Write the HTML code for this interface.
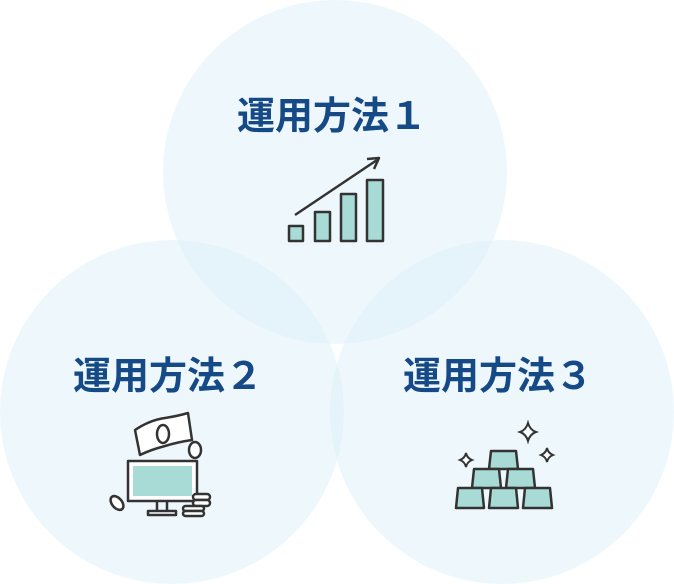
<!DOCTYPE html>
<html><head><meta charset="utf-8"><style>
html,body{margin:0;padding:0;background:#fff;}
svg{display:block}
text{font-family:"Liberation Sans","Noto Sans CJK JP",sans-serif;font-weight:bold;fill:#164a86;font-size:38px}
</style></head><body>
<svg width="674" height="584" viewBox="0 0 674 584">
<g fill="#d9eff8" fill-opacity="0.45">
<circle cx="335" cy="172" r="172"/>
<circle cx="172" cy="412" r="172"/>
<circle cx="502" cy="412" r="172"/>
</g>
<text x="332" y="129" text-anchor="middle">運用方法１</text>
<text x="168" y="389" text-anchor="middle">運用方法２</text>
<text x="498" y="389" text-anchor="middle">運用方法３</text>
<g stroke="#333" stroke-width="2.5" fill="#a8dbd6" stroke-linejoin="round">
<rect x="289" y="226" width="14" height="15"/>
<rect x="315" y="212" width="15" height="29"/>
<rect x="341" y="194" width="15" height="47"/>
<rect x="367" y="180" width="16" height="61"/>
<path d="M295 215 L377 160" fill="none"/>
<path d="M367 159 L379 158 L374 169" fill="none"/>
</g>
<g stroke="#333" stroke-width="2.5" stroke-linejoin="round">
<path d="M135 430 Q150 420 165 418 Q178 416 188 413 L192 440 Q178 442 165 446 Q150 450 140 455 Z" fill="#fff"/>
<ellipse cx="163" cy="434" rx="6" ry="9" fill="none"/>
<ellipse cx="195" cy="450" rx="6" ry="8" fill="#fff"/>
<rect x="128" y="461" width="69" height="40" fill="#fff"/>
<rect x="133" y="466" width="59" height="30" fill="#a8dbd6" stroke="none"/>
<path d="M157 501 V511 M167 501 V511" fill="none"/>
<rect x="148" y="511" width="28" height="4" fill="#fff"/>
<ellipse cx="117" cy="503" rx="5" ry="8" fill="#fff" transform="rotate(-40 117 503)"/>
<rect x="193" y="494" width="17" height="6" rx="3" fill="#fff"/>
<rect x="193" y="500" width="17" height="6" rx="3" fill="#fff"/>
<rect x="183" y="506" width="21" height="5" rx="2.5" fill="#fff"/>
<rect x="183" y="511" width="21" height="5" rx="2.5" fill="#fff"/>
</g>
<g stroke="#333" stroke-width="2.5" fill="#a8dbd6" stroke-linejoin="round">
<path d="M491 451 H516 L518 469 H489 Z"/>
<path d="M474 469 H499 L501 488 H472 Z"/>
<path d="M508 469 H533 L535 488 H506 Z"/>
<path d="M458 488 H482 L484 508 H456 Z"/>
<path d="M491 488 H516 L518 508 H489 Z"/>
<path d="M525 488 H550 L552 508 H523 Z"/>
</g>
<g fill="#fff" stroke="#333" stroke-width="2">
<path d="M528 423 Q530 430 536 432 Q530 434 528 441 Q526 434 520 432 Q526 430 528 423 Z"/>
<path d="M547 448 Q548 453 553 455 Q548 457 547 462 Q546 457 541 455 Q546 453 547 448 Z"/>
<path d="M466 453 Q467 458 472 460 Q467 462 466 467 Q465 462 460 460 Q465 458 466 453 Z"/>
</g>
</svg>
</body></html>
